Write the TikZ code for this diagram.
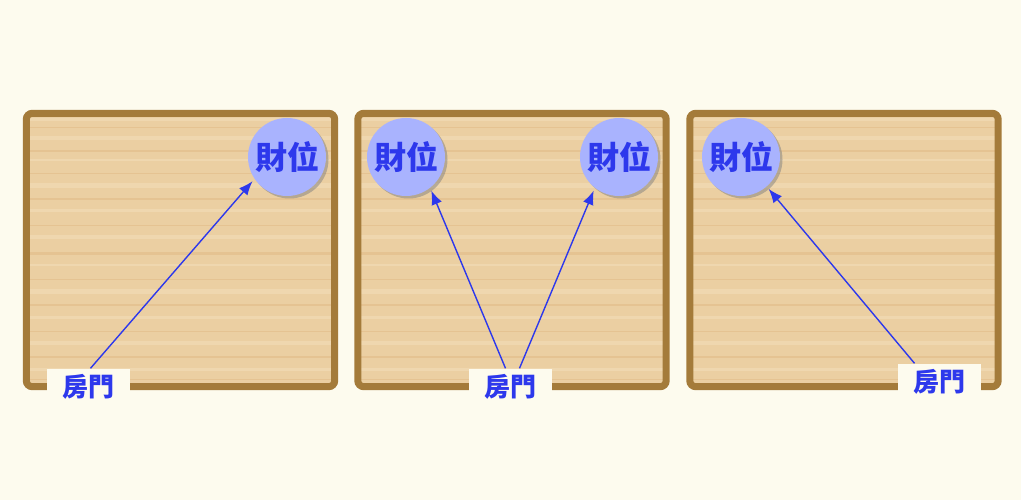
\documentclass[tikz,border=0pt]{standalone}
\usepackage{fontspec}
\newfontfamily\cjk{Noto Sans CJK TC}
\usepackage{tikz}
\usetikzlibrary{shadows}
\usetikzlibrary{arrows.meta}
\usetikzlibrary{positioning}
\definecolor{bgcream}{HTML}{FDFBEE}
\definecolor{frame}{HTML}{A47B3A}
\definecolor{wood}{HTML}{EBCFA2}
\definecolor{woodlight}{HTML}{F5E3C4}
\definecolor{wooddark}{HTML}{DDB27C}
\definecolor{spot}{HTML}{A9B3FE}
\definecolor{ink}{HTML}{2D38EC}

\begin{document}
\begin{tikzpicture}[x=1pt,y=-1pt]
\tikzstyle{panel}=[fill=wood,rounded corners=6pt,minimum width=308pt,minimum height=273pt,inner sep=0pt]
\tikzstyle{rim}=[draw=frame,line width=7pt,rounded corners=6pt]
\tikzstyle{wealth}=[circle,fill=spot,minimum size=78pt,inner sep=0pt,font=\cjk\bfseries\fontsize{32}{32}\selectfont,text=ink,drop shadow={opacity=0.5,shadow xshift=2.5pt,shadow yshift=-2.5pt}]
\tikzstyle{door}=[fill=bgcream,minimum width=83pt,minimum height=37pt,inner sep=0pt,font=\cjk\bfseries\fontsize{26}{26}\selectfont,text=ink]
\tikzstyle{pointer}=[draw=ink,line width=1.4pt,-{Latex[length=14pt,width=11pt]},shorten >=3pt]
\useasboundingbox[fill=bgcream] (0,0) rectangle (1021,500);
% three rooms
\node[panel] (P1) at (180.5,250) {};
\node[panel] (P2) at (512,250) {};
\node[panel] (P3) at (844,250) {};
% wood grain
\foreach \p in {P1,P2,P3} {
  \begin{scope}
    \clip (\p.south west) rectangle (\p.north east);
    \foreach \s/\c/\w in {6/woodlight/3,14/wooddark/1,25/woodlight/4,38/wooddark/2,47/woodlight/2,60/wooddark/1,
                          72/woodlight/5,86/wooddark/2,97/woodlight/3,112/wooddark/1,124/woodlight/4,140/wooddark/3,
                          152/woodlight/2,166/wooddark/1,178/woodlight/5,192/wooddark/2,204/woodlight/3,
                          218/wooddark/1,230/woodlight/4,244/wooddark/2,256/woodlight/3,266/wooddark/1}
      \draw[\c,line width=\w pt,opacity=0.4] ([yshift=-\s pt]\p.north west) -- ([yshift=-\s pt]\p.north east);
  \end{scope}
  \draw[rim] (\p.south west) rectangle (\p.north east);
}
% wealth spots
\node[wealth] (W1) at (287,157) {財位};
\node[wealth] (W2a) at (406,157) {財位};
\node[wealth] (W2b) at (619,157) {財位};
\node[wealth] (W3) at (741,157) {財位};
% doors
\node[door] (D1) at (88.5,387) {房門};
\node[door] (D2) at (510.5,387) {房門};
\node[door] (D3) at (939.5,382) {房門};
% arrows
\draw[pointer] ([xshift=2pt]D1.north) -- (W1.-146);
\draw[pointer] ([xshift=-5pt]D2.north) -- (W2a.-52);
\draw[pointer] ([xshift=9pt]D2.north) -- (W2b.-128);
\draw[pointer] ([xshift=-25pt]D3.north) -- (W3.-49);
\end{tikzpicture}
\end{document}
